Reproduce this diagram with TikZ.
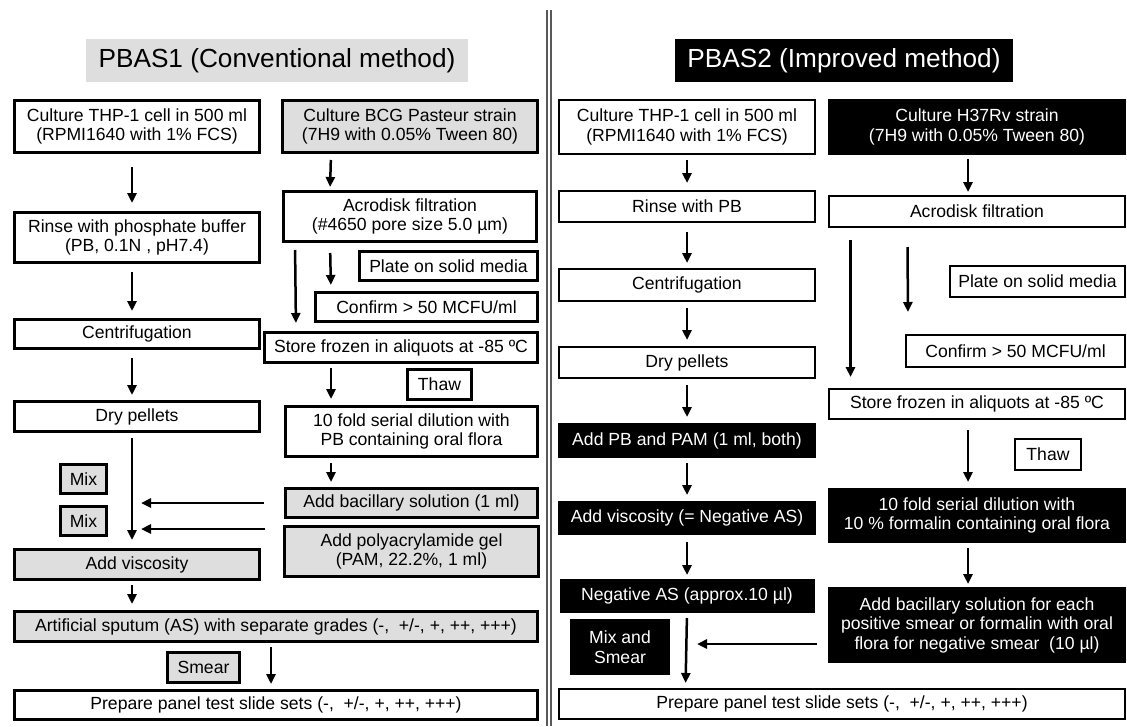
\documentclass[tikz,border=0pt]{standalone}
\usepackage{fontspec}
\setmainfont{Liberation Sans}
\usetikzlibrary{arrows.meta,positioning}

\begin{document}
\begin{tikzpicture}[x=1pt, y=-1pt, font=\fontsize{17.6}{19.5}\selectfont]
	\tikzstyle{box_l}
	  =[draw, rectangle, line width=3pt, align=center, 
	  minimum width=245pt, minimum height=30pt]
	\tikzstyle{box_l_gray}
	  =[box_l, fill=black!13]
	  
	\tikzstyle{box_r}
	  =[draw, rectangle, line width=2.4pt, align=center, 
	  minimum width=255.6pt, minimum height=30.6pt]
	\tikzstyle{box_r_dark}
	  =[box_r, fill=black, text=white]
	  
	\tikzstyle{title_box}
	  =[rectangle, minimum height=43pt, font=\fontsize{26.2}{30}\selectfont]
	\tikzstyle{arrow}
	  =[line width=2.5pt, -{Triangle[length=10pt,width=9pt]}]

	\useasboundingbox (0,0) rectangle (1127,726);

	% (1) conventional method
	\node[title_box, fill=black!13, minimum width=382pt] (title1)
	  at (277,60.5) {PBAS1 (Conventional method)};
	\node[box_l, minimum height=52pt] (cell1)
	  at (137,126.5) {Culture THP-1 cell in 500 ml\\(RPMI1640 with 1\% FCS)};
	\node[box_l, minimum height=50pt] (rinse1)
	  [below=57pt of cell1] {Rinse with phosphate buffer\\(PB, 0.1N , pH7.4)};
	\node[box_l, minimum height=29pt] (cent1)
	  [below=54pt of rinse1] {Centrifugation};
	\node[box_l] (dry1)
	  [below=50pt of cent1] {Dry pellets};
	\node[box_l_gray] (visc1)
	  [below=115pt of dry1] {Add viscosity};

	\node[box_l_gray, minimum width=255pt, minimum height=52pt] (strain1)
	  at (410,126.5) {Culture BCG Pasteur strain\\(7H9 with 0.05\% Tween 80)};
	\node[box_l, minimum width=253pt, minimum height=50pt] (filt1)
	  [below=36pt of strain1] {Acrodisk filtration\\(\#4650 pore size 5.0 µm)};
	\node[box_l, minimum width=178pt, minimum height=29pt] (plate1)
	  at (448.5,266) {Plate on solid media};
	\node[box_l, minimum width=222pt, minimum height=29pt] (confirm1)
	  at (426.5,307) {Confirm > 50 MCFU/ml};
	\node[box_l, minimum width=273pt] (store1)
	  at (401,347.5) {Store frozen in aliquots at -85 ºC};
	\node[box_l, minimum width=64pt] (thaw1)
	  at (439.5,384.5) {Thaw};
	\node[box_l, minimum width=252pt, minimum height=50pt] (dil1)
	  at (411.5,431.5) {10 fold serial dilution with\\PB containing oral flora};
	\node[box_l_gray, minimum width=252pt, minimum height=29pt] (bac1)
	  [below=29pt of dil1] {Add bacillary solution (1 ml)};
	\node[box_l_gray, minimum width=254pt, minimum height=50pt] (pam1)
	  [below=6pt of bac1] {Add polyacrylamide gel\\(PAM, 22.2\%, 1 ml)};

	\node[box_l_gray, minimum width=46pt, minimum height=29pt] (mix1)
	  at (83.5,479) {Mix};
	\node[box_l_gray, minimum width=46pt, minimum height=29pt] (mix2)
	  at (83.5,521) {Mix};
	\node[box_l_gray, minimum width=523pt] (as1)
	  at (276,626.5) {Artificial sputum (AS) with separate grades (-,\ \ +/-, +, ++, +++)};
	\node[box_l, minimum width=523pt, minimum height=29pt] (prep1)
	  [below=46pt of as1] {Prepare panel test slide sets (-,\ \ +/-, +, ++, +++)};
	\node[box_l_gray, minimum width=72pt] (smear1)
	  at (203.5,667.5) {Smear};

	\draw[arrow, shorten <=13pt, shorten >=8pt] ([xshift=-5pt]cell1.south) -- ([xshift=-5pt]rinse1.north);
	\draw[arrow, shorten <=8pt, shorten >=7pt] ([xshift=-5pt]rinse1.south) -- ([xshift=-5pt]cent1.north);
	\draw[arrow, shorten <=8pt, shorten >=5pt] ([xshift=-5pt]cent1.south) -- ([xshift=-5pt]dry1.north);
	\draw[arrow, shorten <=5pt, shorten >=8pt] ([xshift=-5pt]dry1.south) -- ([xshift=-5pt]visc1.north);
	\draw[arrow, shorten <=4pt, shorten >=6pt] ([xshift=-5pt]visc1.south) -- ([xshift=-144pt]as1.north);
	\draw[arrow, shorten <=4pt, shorten >=5pt] ([xshift=-5pt]as1.south) -- ([xshift=-5pt]prep1.north);
	\draw[arrow, shorten <=6pt, shorten >=3pt] ([xshift=-79pt]strain1.south) -- ([xshift=-80pt]filt1.north);
	\draw[arrow, shorten <=10pt, shorten >=6pt] ([xshift=-80pt]filt1.south) -- ([xshift=-95.5pt]confirm1.north);
	\draw[arrow, shorten <=7pt, shorten >=8pt] ([xshift=-115pt]filt1.south) -- ([xshift=-105pt]store1.north);
	\draw[arrow, shorten <=4pt, shorten >=6pt] ([xshift=-70pt]store1.south) -- ([xshift=-80.5pt]dil1.north);
	\draw[arrow, shorten <=5pt, shorten >=5pt] ([xshift=-80.5pt]dil1.south) -- ([xshift=-80.5pt]bac1.north);

	\coordinate (line1) at ([xshift=-5pt]dry1.south);
	\coordinate (pamin) at ([yshift=-4pt]pam1.north west);
	\draw[arrow, shorten <=20pt, shorten >=9pt] (bac1.west) -- (bac1.west -| line1);
	\draw[arrow, shorten <=18pt, shorten >=9pt] (pamin) -- (pamin -| line1);

	% divider
	\draw[black!65, line width=1.2pt] (547,10) -- (547,726);
	\draw[black!65, line width=1.2pt] (551,10) -- (551,726);

	% (2) improved method
	\node[title_box, fill=black, text=white, minimum width=338pt] (title2)
	  at (844,60.5) {PBAS2 (Improved method)};
	\node[box_r, minimum height=53.6pt] (cell2)
	  at (687,127) {Culture THP-1 cell in 500 ml\\(RPMI1640 with 1\% FCS)};
	\node[box_r] (rinse2)
	  [below=35pt of cell2] {Rinse with PB};
	\node[box_r, minimum height=31.6pt] (cent2)
	  [below=45pt of rinse2] {Centrifugation};
	\node[box_r] (dry2)
	  [below=44pt of cent2] {Dry pellets};
	\node[box_r_dark, minimum height=32.6pt] (pbpam2)
	  [below=44pt of dry2] {Add PB and PAM (1 ml, both)};
	\node[box_r_dark, minimum height=31.6pt] (visc2)
	  [below=43pt of pbpam2] {Add viscosity (= Negative AS)};
	\node[box_r_dark, minimum width=252.6pt, minimum height=31.6pt] (neg2)
	  [below=44pt of visc2] {Negative AS (approx.10 µl)};
	\node[box_r_dark, minimum width=97.6pt, minimum height=53.6pt] (mixsmear2)
	  at (620,647) {Mix and\\Smear};

	\node[box_r_dark, minimum width=295.6pt, minimum height=53.6pt] (strain2)
	  at (977,127) {Culture H37Rv strain\\(7H9 with 0.05\% Tween 80)};
	\node[box_r, minimum width=295.6pt] (filt2)
	  [below=40pt of strain2] {Acrodisk filtration};
	\node[box_r, minimum width=174.6pt] (plate2)
	  at (1037.5,281.5) {Plate on solid media};
	\node[box_r, minimum width=218.6pt, minimum height=31.6pt] (confirm2)
	  at (1015.5,351) {Confirm > 50 MCFU/ml};
	\node[box_r, minimum width=295.6pt, minimum height=29.6pt] (store2)
	  [below=160pt of filt2] {Store frozen in aliquots at -85 ºC};
	\node[box_r, minimum width=65.6pt] (thaw2)
	  at (1048,454.5) {Thaw};
	\node[box_r_dark, minimum width=295.6pt, minimum height=52.6pt] (dil2)
	  [below=68pt of store2] {10 fold serial dilution with\\10 \% formalin containing oral flora};
	\node[box_r_dark, minimum width=295.6pt, minimum height=73.6pt] (bac2)
	  [below=44pt of dil2] {Add bacillary solution for each\\positive smear or formalin with oral\\flora for negative smear\ \ (10 µl)};
	\node[box_r, minimum width=565.6pt, minimum height=29.6pt] (prep2)
	  at (842,704) {Prepare panel test slide sets (-,\ \ +/-, +, ++, +++)};

	\draw[arrow, shorten <=5pt, shorten >=7pt] (cell2) -- (rinse2);
	\draw[arrow, shorten <=9pt, shorten >=5pt] (rinse2) -- (cent2);
	\draw[arrow, shorten <=6pt, shorten >=6pt] (cent2) -- (dry2);
	\draw[arrow, shorten <=6pt, shorten >=6pt] (dry2) -- (pbpam2);
	\draw[arrow, shorten <=5pt, shorten >=6pt] (pbpam2) -- (visc2);
	\draw[arrow, shorten <=7pt, shorten >=4pt] (visc2) -- (neg2);
	\draw[arrow, shorten <=5pt, shorten >=5pt] (neg2.south) -- ([xshift=-156.5pt]prep2.north);
	\draw[arrow, shorten <=4pt, shorten >=3pt] ([xshift=-9pt]strain2.south) -- ([xshift=-9pt]filt2.north);
	\draw[arrow, shorten <=12pt, shorten >=11pt] ([xshift=-126.5pt]filt2.south) -- ([xshift=-126.5pt]store2.north);
	\draw[arrow, shorten <=19pt, shorten >=22pt] ([xshift=-69.5pt]filt2.south) -- ([xshift=-107.5pt]confirm2.north);
	\draw[arrow, shorten <=10pt, shorten >=6pt] ([xshift=-9pt]store2.south) -- ([xshift=-9pt]dil2.north);
	\draw[arrow, shorten <=5pt, shorten >=3pt] ([xshift=-9pt]dil2.south) -- ([xshift=-9pt]bac2.north);

	\coordinate (line2) at (neg2.south);
	\coordinate (bacin) at ([yshift=-19pt]bac2.west);
	\draw[arrow, shorten <=11pt, shorten >=10pt] (bacin) -- (bacin -| line2);
\end{tikzpicture}
\end{document}
